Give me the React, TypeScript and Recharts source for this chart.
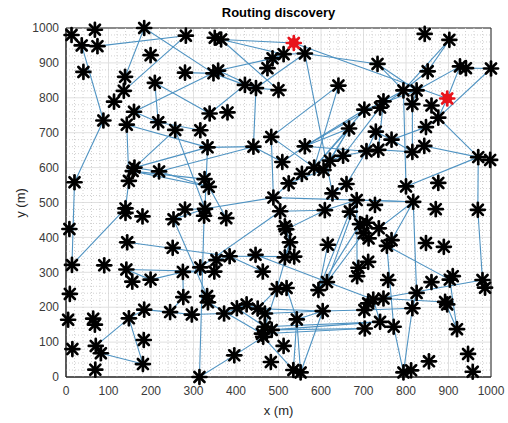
import { ScatterChart, Scatter, XAxis, YAxis, CartesianGrid, ReferenceArea, ReferenceLine } from "recharts";

// sensor nodes, x / y in metres
const nodes: [number, number][] = [
  [13, 980], [68, 995], [184, 1000], [37, 950], [74, 948], [282, 978], [350, 972], [365, 967], [199, 922], [41, 874],
  [139, 860], [136, 820], [113, 789], [280, 872], [347, 870], [358, 878], [209, 843], [421, 837], [447, 828], [338, 755],
  [380, 758], [160, 760], [88, 735], [143, 723], [217, 730], [257, 708], [316, 707], [333, 658], [441, 660], [161, 600],
  [157, 590], [148, 562], [219, 589], [20, 558], [326, 567], [336, 545], [140, 483], [140, 470], [280, 480], [327, 482],
  [325, 462], [180, 460], [253, 452], [377, 455], [8, 424], [144, 386], [251, 370], [14, 321], [90, 320], [142, 308],
  [156, 273], [199, 279], [275, 301], [316, 314], [354, 335], [349, 302], [385, 346], [446, 350], [9, 238], [276, 229],
  [332, 232], [334, 214], [5, 164], [64, 167], [68, 150], [148, 168], [184, 193], [245, 186], [296, 179], [372, 182],
  [402, 197], [425, 208], [451, 196], [468, 182], [15, 80], [70, 89], [82, 68], [183, 106], [181, 37], [69, 21],
  [314, 0], [396, 62], [468, 144], [484, 135], [461, 124], [464, 115], [512, 89], [482, 43], [535, 20], [552, 13],
  [543, 165], [604, 189], [702, 192], [739, 158], [771, 144], [703, 139], [920, 137], [794, 13], [812, 19], [854, 45],
  [946, 66], [957, 15], [815, 197], [892, 215], [897, 208], [825, 241], [723, 222], [747, 225], [711, 211], [758, 278],
  [860, 272], [903, 279], [910, 289], [980, 278], [986, 256], [496, 252], [519, 255], [594, 249], [614, 272], [688, 313],
  [711, 330], [685, 289], [515, 343], [537, 345], [463, 302], [527, 386], [616, 379], [766, 392], [755, 376], [847, 384],
  [889, 373], [692, 438], [708, 442], [736, 426], [700, 412], [712, 397], [504, 475], [515, 432], [518, 423], [609, 478],
  [668, 474], [727, 493], [817, 502], [870, 481], [969, 479], [488, 514], [627, 526], [684, 507], [800, 546], [876, 556],
  [660, 553], [524, 555], [555, 582], [584, 600], [606, 593], [621, 620], [652, 634], [509, 616], [483, 688], [562, 661],
  [707, 647], [735, 651], [815, 645], [843, 662], [970, 630], [998, 622], [766, 680], [729, 703], [666, 712], [847, 716],
  [876, 743], [702, 766], [739, 772], [747, 790], [815, 782], [860, 778], [641, 835], [794, 821], [825, 821], [851, 876],
  [927, 890], [941, 885], [1000, 884], [902, 966], [844, 983], [733, 897], [500, 822], [474, 885], [486, 913], [512, 925],
  [562, 927],
];

// source and destination of the route (ids 192 and 193)
const routeEnds: [number, number][] = [[536, 957], [897, 798]];

// links between nodes, 1-based ids
const edges: [number, number][] = [
  [4, 5], [5, 6], [4, 23], [23, 34], [34, 48], [48, 37], [3, 11], [3, 15], [6, 12], [8, 187],
  [8, 190], [15, 18], [16, 19], [14, 15], [16, 22], [16, 189], [17, 25], [17, 20], [20, 18], [19, 29],
  [29, 33], [30, 28], [31, 36], [31, 35], [24, 32], [32, 37], [26, 40], [25, 27], [24, 28], [22, 25],
  [30, 26], [30, 33], [28, 29], [28, 40], [33, 36], [44, 36], [29, 158],
  [8, 192], [192, 193], [191, 186], [191, 147], [189, 190], [190, 191], [188, 190], [191, 19], [19, 187],
  [177, 154], [184, 180], [184, 178], [182, 183], [181, 179], [181, 193], [183, 171], [193, 171], [171, 165], [171, 170],
  [170, 167], [175, 163], [175, 179], [178, 173], [178, 179], [186, 178], [186, 179], [178, 180], [179, 172], [178, 174],
  [169, 160], [169, 154], [160, 174], [159, 154], [159, 146], [155, 152], [152, 146], [157, 161], [160, 161], [162, 163],
  [164, 165], [149, 165], [165, 145], [178, 149], [162, 174], [172, 160], [169, 156], [156, 157], [157, 173], [151, 161],
  [151, 147], [154, 172], [155, 169], [159, 177], [158, 160], [168, 167], [168, 161], [167, 163],
  [145, 114], [114, 107], [112, 97], [104, 97], [129, 112], [129, 95], [95, 98], [128, 143], [134, 143], [143, 106],
  [106, 103], [108, 104], [93, 103], [98, 103], [127, 118], [118, 132], [119, 135], [139, 126], [126, 123], [57, 124],
  [58, 107], [126, 116], [139, 140], [140, 148], [141, 118], [148, 119], [148, 122], [107, 94], [91, 92], [92, 93],
  [91, 90], [92, 90], [84, 94], [85, 96], [89, 86], [89, 91], [137, 140], [148, 143], [146, 143],
  [46, 57], [50, 52], [50, 56], [52, 53], [53, 56], [43, 61], [43, 40], [60, 53], [60, 68], [41, 81],
  [81, 82], [82, 86], [66, 67], [67, 68], [68, 69], [69, 70], [70, 71], [71, 72], [72, 73], [66, 76],
  [66, 79], [77, 79], [39, 40], [40, 146], [57, 55], [54, 137], [116, 73], [71, 83], [62, 85], [73, 92],
  [74, 92], [84, 96], [83, 94], [117, 91], [116, 83], [57, 125], [76, 77],
];

const majorTicks = [0, 100, 200, 300, 400, 500, 600, 700, 800, 900, 1000];
const minorTicks: number[] = [];
for (let v = 20; v < 1000; v += 20) if (v % 100 !== 0) minorTicks.push(v);

const allNodes = [...nodes, ...routeEnds];
const nodeData = nodes.map(([x, y]) => ({ x, y }));
const endData = routeEnds.map(([x, y]) => ({ x, y }));
const edgeData = edges.map(([a, b]) => [
  { x: allNodes[a - 1][0], y: allNodes[a - 1][1] },
  { x: allNodes[b - 1][0], y: allNodes[b - 1][1] },
]);

const LINK = "#4f93c2";
const FONT = "'Liberation Sans', Arial, sans-serif";

function Star({ cx, cy, color, core = 2.8 }: { cx: number; cy: number; color: string; core?: number }) {
  const r = 7;
  const d = r * 0.72;
  return (
    <g stroke={color} strokeWidth={2.7} strokeLinecap="round">
      <line x1={cx - r} y1={cy} x2={cx + r} y2={cy} />
      <line x1={cx} y1={cy - r} x2={cx} y2={cy + r} />
      <line x1={cx - d} y1={cy - d} x2={cx + d} y2={cy + d} />
      <line x1={cx - d} y1={cy + d} x2={cx + d} y2={cy - d} />
      <circle cx={cx} cy={cy} r={core} fill={color} stroke="none" />
    </g>
  );
}

export default function App() {
  return (
    <div style={{ position: "absolute", left: 0, top: 0, width: 508, height: 423, background: "#fff", fontFamily: FONT }}>
      <div style={{ position: "absolute", left: 66, width: 425, top: 5, textAlign: "center", fontWeight: "bold", fontSize: 13, color: "#000" }}>
        Routing discovery
      </div>
      <div style={{ position: "absolute", left: 66, width: 425, top: 403, textAlign: "center", fontSize: 13, color: "#262626" }}>
        x (m)
      </div>
      <div
        style={{
          position: "absolute", left: 20, top: 203, fontSize: 13, color: "#262626", whiteSpace: "nowrap",
          transform: "translate(-50%, -50%) rotate(-90deg)",
        }}
      >
        y (m)
      </div>
      <ScatterChart width={508} height={423} margin={{ top: 28, right: 17, bottom: 16, left: 0 }}>
        <CartesianGrid stroke="#e0e0e0" />
        <XAxis
          type="number" dataKey="x" domain={[0, 1000]} ticks={majorTicks} height={30}
          tickSize={0} tickMargin={9} axisLine={{ stroke: "#262626" }}
          tick={{ fill: "#3a3a3a", fontSize: 12, fontFamily: FONT }}
        />
        <YAxis
          type="number" dataKey="y" domain={[0, 1000]} ticks={majorTicks} width={66}
          tickSize={0} tickMargin={7} axisLine={{ stroke: "#262626" }}
          tick={{ fill: "#3a3a3a", fontSize: 12, fontFamily: FONT }}
        />
        {minorTicks.map((v) => (
          <ReferenceLine key={"mx" + v} x={v} stroke="#d2d2d2" strokeDasharray="1 2" />
        ))}
        {minorTicks.map((v) => (
          <ReferenceLine key={"my" + v} y={v} stroke="#d2d2d2" strokeDasharray="1 2" />
        ))}
        {edgeData.map((seg, i) => (
          <Scatter
            key={"e" + i}
            data={seg}
            line={{ stroke: LINK, strokeWidth: 1.1 }}
            shape={() => <g />}
            legendType="none"
            isAnimationActive={false}
          />
        ))}
        <Scatter
          data={nodeData}
          shape={(p: any) => <Star cx={p.cx} cy={p.cy} color="#000" />}
          isAnimationActive={false}
        />
        <Scatter
          data={endData}
          shape={(p: any) => <Star cx={p.cx} cy={p.cy} color="#e8141c" core={5} />}
          isAnimationActive={false}
        />
        <ReferenceArea x1={0} x2={1000} y1={0} y2={1000} fill="none" stroke="#262626" strokeOpacity={1} ifOverflow="visible" />
      </ScatterChart>
    </div>
  );
}
